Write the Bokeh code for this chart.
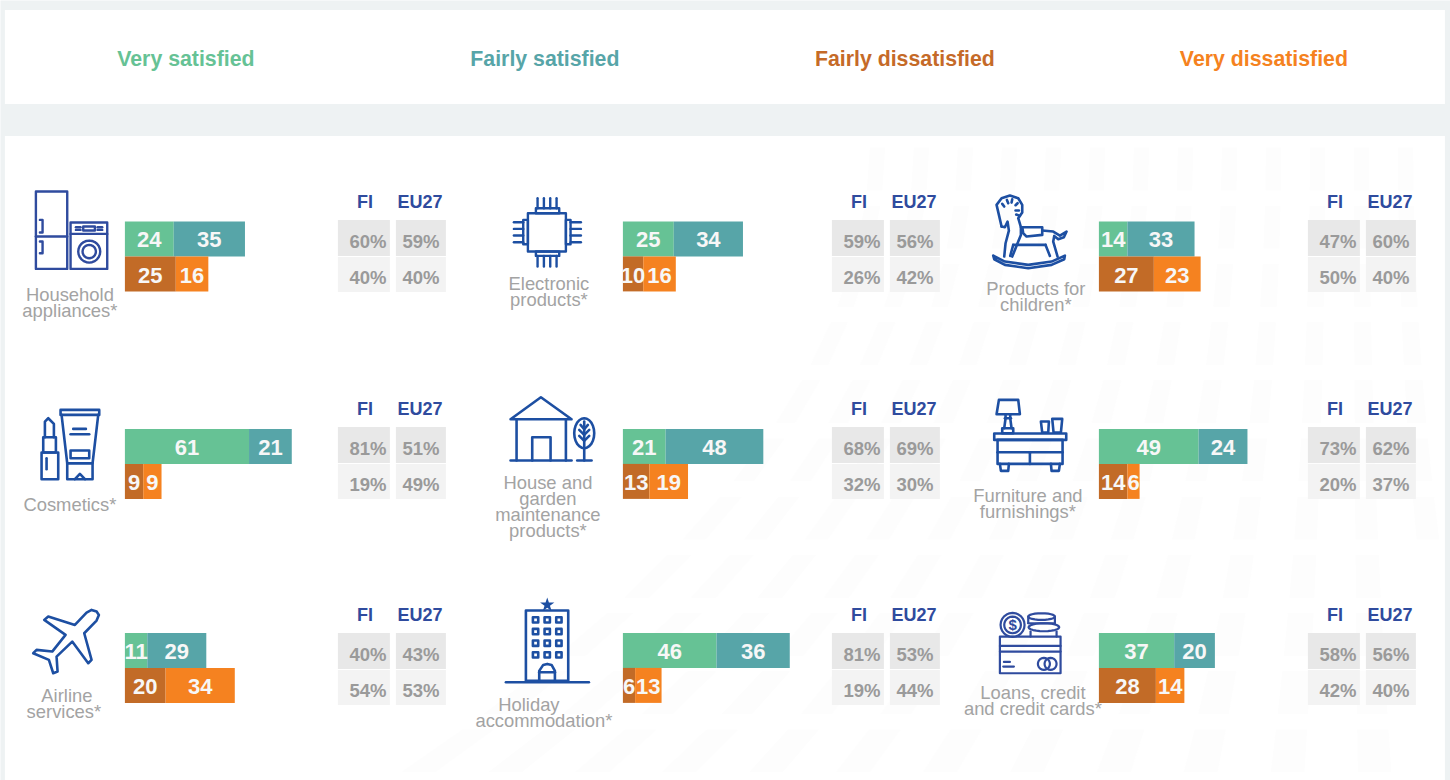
import math
from bokeh.plotting import figure
from bokeh.models import ColumnDataSource
from bokeh.core.properties import value
from bokeh.embed import file_html
from bokeh.resources import INLINE

# ---- data ----
headers = ["Very satisfied", "Fairly satisfied", "Fairly dissatisfied", "Very dissatisfied"]
categories = [
    ["Household", "appliances*"], ["Electronic", "products*"], ["Products for", "children*"],
    ["Cosmetics*"], ["House and", "garden", "maintenance", "products*"], ["Furniture and", "furnishings*"],
    ["Airline", "services*"], ["Holiday", "accommodation*"], ["Loans, credit", "and credit cards*"],
]
very_satisfied = [24, 25, 14, 61, 21, 49, 11, 46, 37]
fairly_satisfied = [35, 34, 33, 21, 48, 24, 29, 36, 20]
fairly_dissatisfied = [25, 10, 27, 9, 13, 14, 20, 6, 28]
very_dissatisfied = [16, 16, 23, 9, 19, 6, 34, 13, 14]
fi_satisfied = [60, 59, 47, 81, 68, 73, 40, 81, 58]
fi_dissatisfied = [40, 26, 50, 19, 32, 20, 54, 19, 42]
eu_satisfied = [59, 56, 60, 51, 69, 62, 43, 53, 56]
eu_dissatisfied = [40, 42, 40, 49, 30, 37, 53, 44, 40]
column_heads = ["FI", "EU27"]

# ---- styles and layout ----
BG = "#EEF2F3"
GREEN, TEAL, BROWN, ORANGE = "#66C295", "#57A5A8", "#C26B27", "#F58220"
NAVY, BLUE = "#2F4B9E", "#1D4FA2"
GREY_TXT, PCT_TXT = "#A3A3A3", "#9A9A9A"
FONT = value("Liberation Sans")
UNIT = 2.035
BAR_X = [125, 623, 1099]
BOX_X = [338, 832, 1308]
ROW_BAR = [221.5, 429, 633]
ROW_BOX = [220, 427, 633]
ROW_HEAD = [202, 409, 615]
HEADER_X = [186, 545, 905, 1264]
LABEL_POS = [
    [(70, 295), (70, 311)], [(549, 284), (549, 300)], [(1036, 289), (1036, 305)],
    [(70, 505)], [(548, 483), (548, 499), (548, 515), (548, 531)], [(1028, 496), (1028, 512)],
    [(67, 696), (64, 712)], [(529, 705), (544, 721)], [(1033, 693), (1033, 709)],
]

p = figure(width=1450, height=780, x_range=(0.6, 1450.6), y_range=(780.6, 0.6), output_backend="svg",
           toolbar_location=None, min_border=0, outline_line_color=None,
           background_fill_color=BG, border_fill_color=BG)
p.axis.visible = False
p.grid.visible = False
p.styles = {"position": "absolute", "left": "0px", "top": "0px"}


def box(x0, y0, x1, y1, color):
    p.quad(left=[x0], right=[x1], top=[y0], bottom=[y1], fill_color=color, line_color=None)


def txt(x, y, s, size, color, bold=False, font=FONT):
    p.text(x=[x], y=[y], text=[s], text_font=font, text_font_size=f"{size}px", text_color=color,
           text_font_style="bold" if bold else "normal", text_align="center", text_baseline="middle")


box(5, 10, 1445, 104, "#FFFFFF")
box(5, 136, 1445, 781, "#FFFFFF")

# faint background streaks
for i in range(14):
    for j in range(11):
        t0, t1 = j / 11 + 0.012, (j + 1) / 11 - 0.012
        def pt(t, off):
            xb, xt = 390 + 88 * i + off, 870 + 44 * i + off * 0.45
            return xb + (xt - xb) * (1 - (1 - t) ** 2), 780 - 640 * t
        a, b, c, d = pt(t0, 0), pt(t0, 34), pt(t1, 34), pt(t1, 0)
        if c[0] > 1445 or b[0] > 1445:
            continue
        p.patch([a[0], b[0], c[0], d[0]], [a[1], b[1], c[1], d[1]], fill_color="#FDFDFD", line_color=None)

for name, x, col in zip(headers, HEADER_X, [GREEN, TEAL, "#C56A28", ORANGE]):
    txt(x, 59, name, 21.3, col, True)

# ---- bars ----
seg = dict(y=[], left=[], right=[], color=[])
for k in range(9):
    col, row = k % 3, k // 3
    x0, yt = BAR_X[col], ROW_BAR[row]
    for series, c, dy in [((very_satisfied, fairly_satisfied), (GREEN, TEAL), 17.5),
                          ((fairly_dissatisfied, very_dissatisfied), (BROWN, ORANGE), 52.5)]:
        a, b = series[0][k], series[1][k]
        xa, xb = x0 + a * UNIT, x0 + (a + b) * UNIT
        seg["y"] += [yt + dy, yt + dy]
        seg["left"] += [x0, xa]
        seg["right"] += [xa, xb]
        seg["color"] += list(c)
p.hbar(y="y", left="left", right="right", height=35, fill_color="color", line_color=None,
       source=ColumnDataSource(seg))

for k in range(9):
    col, row = k % 3, k // 3
    x0, yt = BAR_X[col], ROW_BAR[row]
    for series, dy in [((very_satisfied, fairly_satisfied), 18.5), ((fairly_dissatisfied, very_dissatisfied), 54)]:
        a, b = series[0][k], series[1][k]
        txt(x0 + a * UNIT / 2, yt + dy, str(a), 22, "#F7F7F7", True)
        txt(x0 + (a + b / 2) * UNIT, yt + dy, str(b), 22, "#F7F7F7", True)
    bx, by = BOX_X[col], ROW_BOX[row]
    box(bx, by, bx + 52, by + 36, "#E8E8E8")
    box(bx + 58, by, bx + 108, by + 36, "#E8E8E8")
    box(bx, by + 37, bx + 52, by + 72, "#F3F3F3")
    box(bx + 58, by + 37, bx + 108, by + 72, "#F3F3F3")
    txt(bx + 27, ROW_HEAD[row], column_heads[0], 18, NAVY, True)
    txt(bx + 82, ROW_HEAD[row], column_heads[1], 18, NAVY, True)
    txt(bx + 30, by + 22, f"{fi_satisfied[k]}%", 18.5, PCT_TXT, True)
    txt(bx + 83, by + 22, f"{eu_satisfied[k]}%", 18.5, PCT_TXT, True)
    txt(bx + 30, by + 58, f"{fi_dissatisfied[k]}%", 18.5, PCT_TXT, True)
    txt(bx + 83, by + 58, f"{eu_dissatisfied[k]}%", 18.5, PCT_TXT, True)
    for line, (lx, ly) in zip(categories[k], LABEL_POS[k]):
        txt(lx, ly, line, 18.4, GREY_TXT)


# ---- icons (decoration, drawn in zoom-crop coordinates) ----
def icon(ox, oy, color, width=2.4):
    def draw(*polys):
        xs = [[ox + q[0] / 3 for q in poly] for poly in polys]
        ys = [[oy + q[1] / 3 for q in poly] for poly in polys]
        p.multi_line(xs, ys, line_color=color, line_width=width, line_join="round", line_cap="round")
    return draw


def rect(x0, y0, x1, y1):
    return [(x0, y0), (x1, y0), (x1, y1), (x0, y1), (x0, y0)]


def circ(cx, cy, rx, ry=None):
    ry = ry or rx
    return [(cx + rx * math.cos(t / 24 * 2 * math.pi), cy + ry * math.sin(t / 24 * 2 * math.pi)) for t in range(25)]


# household appliances
d = icon(0, 170, NAVY)
d(rect(108, 65, 202, 297), [(108, 200), (202, 200)],
  [(120, 150), (128, 150), (128, 188), (120, 188)], [(120, 215), (128, 215), (128, 250), (120, 250)],
  rect(212, 158, 322, 297), [(212, 192), (322, 192)], rect(250, 170, 285, 182),
  circ(268, 245, 33), circ(268, 245, 20), [(228, 172), (242, 172)], [(293, 172), (307, 172)],
  [(228, 180), (242, 180)], [(293, 180), (307, 180)])

# chip
d = icon(500, 190, BLUE)
d(rect(84, 70, 198, 185), rect(70, 90, 84, 163), rect(198, 90, 212, 163), rect(108, 55, 178, 70), rect(108, 185, 178, 198),
  *[[(42, y), (70, y)] for y in (97, 117, 137, 157)], *[[(212, y), (243, y)] for y in (97, 117, 137, 157)],
  *[[(x, 25), (x, 55)] for x in (113, 132, 151, 170)], *[[(x, 198), (x, 230)] for x in (113, 132, 151, 170)])

# rocking horse
d = icon(985, 190, BLUE, 2.6)
d([(50, 110), (42, 75), (35, 45), (50, 25), (75, 17), (100, 25), (112, 45), (112, 68), (100, 85), (108, 112)],
  [(50, 110), (60, 112), (68, 95), (72, 122), (62, 160), (58, 200)],
  [(108, 112), (108, 135), (100, 155), (82, 200)],
  [(85, 165), (182, 165)], [(85, 165), (76, 198)], [(182, 165), (195, 198)],
  [(112, 112), (172, 112), (172, 135), (125, 140), (115, 130), (112, 112)],
  [(172, 122), (205, 125), (225, 137), (245, 125), (237, 142), (220, 148), (208, 138), (205, 155), (218, 200)],
  [(25, 197), (60, 215), (130, 225), (200, 215), (240, 197), (238, 208), (200, 225), (130, 235), (60, 225), (28, 208), (25, 197)],
  [(52, 42), (58, 50)], [(66, 30), (70, 40)], [(82, 28), (80, 38)], [(98, 40), (92, 46)], [(102, 62), (92, 62)], [(105, 78), (94, 74)])

# cosmetics
d = icon(30, 400, BLUE, 2.6)
d(rect(35, 158, 85, 238), rect(40, 112, 78, 158), [(45, 112), (45, 65), (55, 55), (72, 72), (72, 112)], [(50, 175), (50, 208)],
  rect(92, 30, 208, 45), [(95, 45), (112, 190), (188, 190), (205, 45)], rect(112, 190, 188, 238),
  [(130, 87), (168, 87)], [(122, 103), (178, 103)], rect(122, 152, 178, 175), [(135, 238), (150, 222), (165, 238)])

# house and tree
d = icon(490, 380, BLUE, 2.6)
d([(62, 118), (153, 52), (245, 118), (62, 118)], [(80, 118), (80, 242)], [(228, 118), (228, 242)], [(62, 242), (245, 242)],
  [(127, 242), (127, 172), (182, 172), (182, 242)], circ(283, 160, 30, 45), [(283, 125), (283, 242)], [(262, 242), (305, 242)],
  [(268, 150), (283, 165), (298, 150)], [(268, 168), (283, 183), (298, 168)], [(272, 135), (283, 148), (294, 135)])

# furniture
d = icon(985, 395, BLUE, 2.6)
d([(42, 15), (100, 15), (105, 58), (35, 58), (42, 15)], [(62, 58), (62, 70), (58, 100)], [(76, 58), (76, 70), (80, 100)], [(60, 70), (78, 70)],
  rect(52, 100, 85, 115), [(168, 80), (192, 80), (190, 113), (172, 113), (168, 80)], [(202, 72), (232, 72), (228, 113), (206, 113), (202, 72)],
  rect(28, 116, 244, 135), rect(38, 135, 233, 207), [(38, 172), (233, 172)], [(135, 175), (135, 207)],
  [(45, 207), (48, 228), (70, 228), (72, 207)], [(198, 207), (200, 228), (222, 228), (225, 207)])

# plane
d = icon(25, 600, BLUE, 2.6)
d([(215, 35), (200, 30), (185, 38), (150, 75), (70, 50), (58, 60), (122, 105), (82, 155), (35, 150), (25, 160), (72, 180), (85, 220),
   (98, 215), (95, 170), (142, 125), (190, 190), (200, 180), (178, 100), (215, 62), (222, 45), (215, 35)])

# hotel
d = icon(500, 595, BLUE, 2.6)
windows = [rect(x - 8, y - 8, x + 8, y + 8) for x in (107, 142, 177) for y in (75, 110, 145, 180)]
d(rect(78, 47, 205, 258), [(18, 262), (267, 262)], *windows,
  [(118, 258), (118, 228), (130, 210), (142, 207), (155, 210), (165, 228), (165, 258)], [(118, 232), (165, 232)])
p.scatter(x=[500 + 142 / 3], y=[595 + 30 / 3], marker="star", size=15, fill_color=BLUE, line_color=None)

# card and coins
d = icon(960, 590, NAVY, 2.2)
d(rect(120, 140, 302, 250), [(120, 168), (302, 168)], [(120, 185), (302, 185)], [(132, 216), (150, 216)], [(130, 230), (162, 230)],
  circ(252, 222, 18), circ(272, 222, 18), circ(158, 105, 36), circ(158, 105, 25),
  circ(245, 80, 40, 10), [(205, 80), (205, 100)], [(285, 80), (285, 100)], [(205, 100), (285, 100)],
  circ(252, 112, 46, 12), [(212, 125), (212, 140)], [(290, 125), (290, 140)])
txt(960 + 158 / 3, 590 + 105 / 3, "$", 15, NAVY, True)

open("out.html", "w").write(file_html(p, INLINE))
